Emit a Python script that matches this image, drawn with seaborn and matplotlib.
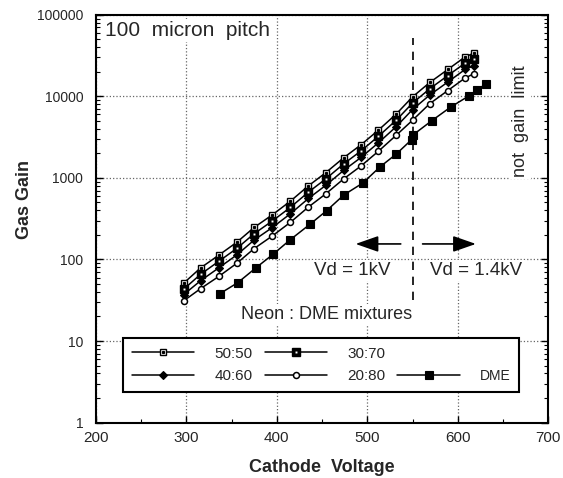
import matplotlib
matplotlib.use("Agg")
import matplotlib.pyplot as plt
import seaborn as sns
from matplotlib.lines import Line2D
from matplotlib.legend_handler import HandlerTuple
from matplotlib.ticker import MultipleLocator, FixedLocator, NullFormatter, LogLocator

# gas gain vs cathode voltage
mix_volts = [297, 316, 336, 356, 375, 395, 415, 435, 454, 474, 493, 512, 532, 550, 569, 589, 608, 618]
gain_50_50 = [51, 79, 113, 163, 247, 352, 518, 800, 1156, 1770, 2546, 3830, 6080, 9860, 14800, 21400, 30500, 34000]
gain_30_70 = [43, 66, 95, 137, 207, 296, 435, 670, 970, 1490, 2140, 3220, 5110, 8280, 12400, 18000, 25600, 28600]
gain_40_60 = [37, 55, 79, 114, 173, 246, 363, 560, 809, 1240, 1780, 2680, 4260, 6900, 10400, 15000, 21400, 23800]
gain_20_80 = [31, 44, 62, 90, 136, 194, 285, 440, 636, 975, 1400, 2110, 3340, 5100, 8140, 11800, 16800, 19000]

dme_volts = [337, 357, 377, 396, 415, 437, 455, 474, 495, 514, 532, 549, 551, 571, 592, 612, 621, 631]
gain_dme = [38, 52, 79, 116, 175, 272, 396, 617, 865, 1364, 1963, 2950, 3400, 5010, 7380, 10100, 11970, 14200]

x_ticks = [200, 300, 400, 500, 600, 700]
y_ticks = [1, 10, 100, 1000, 10000, 100000]
y_labels = ["1", "10", "100", "1000", "10000", "100000"]

sns.set_style("ticks")
plt.rcParams['font.family'] = ['Liberation Sans', 'DejaVu Sans']

fig = plt.figure(figsize=(5.63, 4.78), dpi=100)
ax = fig.add_axes([0.170, 0.116, 0.804, 0.853])

def draw(x, y, marker, ms, mfc, mew):
    sns.lineplot(x=x, y=y, ax=ax, color='black', lw=1.1, marker=marker,
                 markersize=ms, markerfacecolor=mfc, markeredgecolor='black',
                 markeredgewidth=mew, estimator=None, sort=False, zorder=3)

draw(mix_volts, gain_50_50, 's', 5, 'white', 1.0)
ax.plot(mix_volts, gain_50_50, ls='none', marker='s', ms=1.3, color='black', zorder=4)
draw(mix_volts, gain_30_70, 's', 5.2, 'black', 1.0)
ax.plot(mix_volts, gain_30_70, ls='none', marker='s', ms=1.4, color='white', mew=0, zorder=4)
draw(mix_volts, gain_40_60, 'D', 4, 'black', 0.8)
draw(mix_volts, gain_20_80, 'o', 4.3, 'white', 1.1)
draw(dme_volts, gain_dme, 's', 5.5, 'black', 0.8)

ax.set_yscale('log')
ax.set_xlim(200, 700)
ax.set_ylim(1, 100000)
ax.xaxis.set_major_locator(FixedLocator(x_ticks))
ax.xaxis.set_minor_locator(MultipleLocator(50))
ax.yaxis.set_major_locator(FixedLocator(y_ticks))
ax.set_yticklabels(y_labels)
ax.yaxis.set_minor_locator(LogLocator(base=10, subs=range(2, 10)))
ax.yaxis.set_minor_formatter(NullFormatter())

ax.tick_params(which='both', direction='in', top=False, right=True, color='black')
ax.tick_params(which='major', length=5, width=1)
ax.tick_params(which='minor', length=3, width=0.8)
ax.tick_params(axis='x', labelsize=11, pad=6)
ax.tick_params(axis='y', labelsize=10, pad=9)
for s in ax.spines.values():
    s.set_linewidth(1.5)
    s.set_color('black')

ax.set_axisbelow(True)
ax.grid(True, which='major', color='0.4', ls=':', lw=0.9)

ax.set_xlabel('Cathode  Voltage', fontsize=13, fontweight='bold')
ax.xaxis.set_label_coords(0.5, -0.089)
ax.set_ylabel('Gas Gain', fontsize=13, fontweight='bold')
ax.yaxis.set_label_coords(-0.139, 0.546)

# annotations
ax.axvline(550, ymin=0.301, ymax=0.944, color='black', lw=1.2, ls=(0, (5, 4)), zorder=2)
arrow = dict(arrowstyle='-|>,head_length=1.0,head_width=0.35', color='black', lw=1.2, mutation_scale=14)
ax.annotate('', xy=(484, 155), xytext=(540, 155), arrowprops=arrow)
ax.annotate('', xy=(623, 155), xytext=(558, 155), arrowprops=arrow)

box = dict(facecolor='white', edgecolor='none', pad=1.5)
ax.text(0.021, 0.962, '100  micron  pitch', transform=ax.transAxes, fontsize=15,
        ha='left', va='center', bbox=box)
ax.text(0.9375, 0.74, 'not  gain  limit', transform=ax.transAxes, fontsize=13,
        rotation=90, ha='center', va='center', bbox=box)
ax.text(0.567, 0.372, 'Vd = 1kV', transform=ax.transAxes, fontsize=13.5,
        ha='center', va='center', bbox=box)
ax.text(0.841, 0.372, 'Vd = 1.4kV', transform=ax.transAxes, fontsize=13.5,
        ha='center', va='center', bbox=box)
ax.text(0.509, 0.264, 'Neon : DME mixtures', transform=ax.transAxes, fontsize=13,
        ha='center', va='center', bbox=box)

# legend
h5050 = (Line2D([], [], color='k', lw=1.1, marker='s', ms=5, mfc='w', mec='k', mew=1),
         Line2D([], [], ls='none', marker='s', ms=1.3, color='k'))
h3070 = (Line2D([], [], color='k', lw=1.1, marker='s', ms=5.2, mfc='k', mec='k', mew=1),
         Line2D([], [], ls='none', marker='s', ms=1.4, color='w', mew=0))
h4060 = Line2D([], [], color='k', lw=1.1, marker='D', ms=4, mfc='k', mec='k', mew=0.8)
h2080 = Line2D([], [], color='k', lw=1.1, marker='o', ms=4.3, mfc='w', mec='k', mew=1.1)
hblank = Line2D([], [], alpha=0)
hdme = Line2D([], [], color='k', lw=1.1, marker='s', ms=5.5, mfc='k', mec='k', mew=0.8)

leg = ax.legend([h5050, h4060, h3070, h2080, hblank, hdme],
                ['50:50', '40:60', '30:70', '20:80', '', 'DME'],
                handler_map={tuple: HandlerTuple(ndivide=1, pad=0)}, ncol=3,
                loc='lower left', bbox_to_anchor=(0.061, 0.076), borderaxespad=0,
                fontsize=11, handlelength=4.1, handletextpad=1.3, columnspacing=0.8,
                labelspacing=0.55, borderpad=0.55, frameon=True, fancybox=False,
                edgecolor='black', framealpha=1)
leg.get_frame().set_linewidth(1.5)
leg.get_texts()[5].set_fontsize(10)

fig.savefig('out.png', dpi=100)
